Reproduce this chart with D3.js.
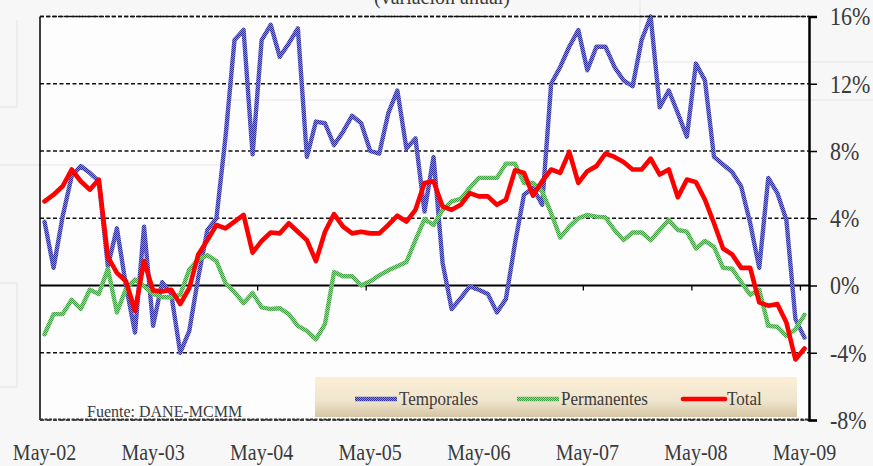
<!DOCTYPE html>
<html><head><meta charset="utf-8">
<script src="https://cdn.jsdelivr.net/npm/d3@7"></script>
<style>
body{margin:0;background:#f7f7f7;}
svg{display:block;}
text{font-family:"Liberation Serif","Times New Roman",serif;fill:#3a3a3a;}
</style>
</head><body>
<svg id="c" width="873" height="466"></svg>
<script>
// ---- data ----
const startMonth = new Date(2002, 4, 1); // May-02
const nMonths = 85;                      // May-02 .. May-09
const categories = d3.range(nMonths).map(i => d3.timeMonth.offset(startMonth, i));
const xTickLabels = ["May-02","May-03","May-04","May-05","May-06","May-07","May-08","May-09"];
const yTicks = [-8,-4,0,4,8,12,16];
const seriesNames = ["Temporales","Permanentes","Total"];
const titleText = "(variación anual)";
const sourceText = "Fuente: DANE-MCMM";

const temporales = [3.8,1.05,4.1,6.5,7.1,6.7,6.2,1.15,3.4,0.0,
  -2.8,3.5,-2.4,0.2,-0.5,-4.0,-2.7,0.5,3.3,4.0,
  8.8,14.6,15.2,7.8,14.6,15.5,13.6,14.4,15.3,7.65,
  9.75,9.65,8.35,9.15,10.1,9.65,8.0,7.85,10.25,11.6,
  8.15,8.75,4.4,7.65,1.35,-1.4,-0.75,-0.05,-0.25,-0.5,
  -1.6,-0.8,2.5,5.4,5.8,4.8,12.0,13.0,14.2,15.2,
  12.8,14.2,14.2,13.0,12.2,11.85,14.6,16.0,10.6,11.6,
  10.25,8.85,13.2,12.2,7.65,7.2,6.75,5.9,3.7,1.05,
  6.4,5.5,3.9,-2.0,-3.1];
const permanentes = [-2.9,-1.7,-1.7,-0.85,-1.4,-0.25,-0.5,1.0,-1.6,-0.2,
  0.35,-0.05,-0.5,-0.7,-0.7,-0.55,0.95,1.55,1.8,1.45,
  0.15,-0.4,-1.05,-0.45,-1.3,-1.4,-1.35,-1.7,-2.4,-2.7,
  -3.2,-2.3,0.8,0.55,0.55,0.0,0.25,0.6,0.9,1.15,
  1.4,2.7,3.95,3.6,4.5,5.0,5.15,5.8,6.4,6.4,
  6.4,7.25,7.25,6.1,6.1,5.6,4.3,2.85,3.5,4.0,
  4.2,4.1,4.05,3.3,2.7,3.15,3.15,2.7,3.3,3.9,
  3.3,3.2,2.2,2.65,2.3,1.05,1.0,0.2,-0.55,-0.25,
  -2.4,-2.45,-3.0,-2.6,-1.75];
const total = [5.0,5.4,5.9,6.9,6.2,5.7,6.3,1.7,0.75,0.25,
  -1.5,1.45,-0.3,-0.35,-0.25,-1.1,-0.15,1.85,2.7,3.6,
  3.4,3.8,4.2,1.95,2.65,3.15,3.1,3.7,3.2,2.7,
  1.45,3.2,4.25,3.5,3.1,3.2,3.1,3.1,3.6,4.15,
  3.8,4.5,6.1,6.2,4.7,4.5,4.8,5.5,5.3,5.3,
  4.8,5.1,6.85,6.7,5.35,6.2,6.9,6.7,7.95,6.1,
  6.8,7.1,7.85,7.65,7.35,6.9,6.9,7.55,6.6,6.9,
  5.25,6.3,6.15,5.1,3.7,2.2,1.85,1.05,1.05,-1.0,
  -1.2,-1.1,-2.2,-4.4,-3.75];

// ---- layout ----
const svg = d3.select("#c");
const L = 40, R = 809, T = 16.5, B = 420;

const x = d3.scaleBand().domain(d3.range(nMonths)).range([L, R]).padding(0);
const xEdge = d3.scaleLinear().domain([0, nMonths]).range([L, R]);
const y = d3.scaleLinear().domain([-8, 16]).range([B, T]);

const defs = svg.append("defs");
function checker(id, dark, light) {
  const p = defs.append("pattern").attr("id", id).attr("width", 2).attr("height", 2)
    .attr("patternUnits", "userSpaceOnUse");
  p.append("rect").attr("width", 2).attr("height", 2).attr("fill", light);
  p.append("rect").attr("width", 1).attr("height", 1).attr("fill", dark);
  p.append("rect").attr("x", 1).attr("y", 1).attr("width", 1).attr("height", 1).attr("fill", dark);
}
checker("pb", "#30309a", "#8c8cce");
checker("pg", "#3f9e3f", "#9cd69c");
const lg = defs.append("linearGradient").attr("id", "lgd").attr("x1", 0).attr("x2", 0).attr("y1", 0).attr("y2", 1);
lg.append("stop").attr("offset", "0%").attr("stop-color", "#fcefd6");
lg.append("stop").attr("offset", "60%").attr("stop-color", "#efe5cd");
lg.append("stop").attr("offset", "100%").attr("stop-color", "#d5c4a2");

// background + faint slide artefacts
svg.append("rect").attr("width", 873).attr("height", 466).attr("fill", "#f7f7f7");
svg.append("rect").attr("x", L).attr("y", T).attr("width", R - L).attr("height", B - T).attr("fill", "#fdfdfd");
const faint = [[17,20,17,107],[0,107,17,107],[0,165,229,165],[229,100,229,165],[229,100,873,100],
               [640,0,640,62],[640,62,873,62],[17,283,17,387],[0,283,17,283],[0,387,17,387]];
svg.append("g").selectAll("line").data(faint).join("line")
  .attr("x1", d => d[0]).attr("y1", d => d[1]).attr("x2", d => d[2]).attr("y2", d => d[3])
  .attr("stroke", "#e6e6e6").attr("stroke-width", 1.2);

// title (cut off at top, as in the source slide)
svg.append("text").attr("x", 442).attr("y", 4).attr("text-anchor", "middle")
  .attr("font-size", 20).text(titleText);

// gridlines
svg.append("g").selectAll("line").data(yTicks.filter(v => v !== 0)).join("line")
  .attr("x1", L).attr("x2", R).attr("y1", d => y(d)).attr("y2", d => y(d))
  .attr("stroke", "#111").attr("stroke-width", 1.3).attr("stroke-dasharray", "4,2.5");

// zero line with tick marks
svg.append("line").attr("x1", L).attr("x2", R).attr("y1", y(0)).attr("y2", y(0))
  .attr("stroke", "#000").attr("stroke-width", 2.2);
const zt = svg.append("g").attr("transform", `translate(0,${y(0)})`)
  .call(d3.axisBottom(xEdge).tickValues(d3.range(12, nMonths, 12)).tickSize(5).tickFormat(""));
zt.select(".domain").remove();
zt.selectAll("line").attr("stroke", "#000").attr("stroke-width", 1.3);

// left axis line
svg.append("line").attr("x1", L).attr("x2", L).attr("y1", T).attr("y2", B)
  .attr("stroke", "#000").attr("stroke-width", 1.5);

// x labels
const xa = svg.append("g").attr("transform", `translate(0,${B})`)
  .call(d3.axisBottom(x).tickValues(d3.range(0, nMonths, 12)).tickSize(0)
    .tickFormat((d, i) => xTickLabels[i]));
xa.select(".domain").remove();
xa.selectAll("text").attr("dy", null).attr("y", 40 / 1.14).attr("transform", "scale(1,1.14)")
  .attr("font-size", 20).attr("font-family", '"Liberation Serif",serif').attr("fill", "#3a3a3a");

// right axis
const ya = svg.append("g").attr("transform", `translate(${R},0)`)
  .call(d3.axisRight(y).tickValues(yTicks).tickSize(8).tickPadding(13).tickFormat(d => d + "%"));
ya.select(".domain").attr("stroke", "#000").attr("stroke-width", 2.5);
ya.selectAll("line").attr("stroke", "#000").attr("stroke-width", 1.5);
ya.selectAll("text").attr("dy", "0.33em").attr("transform", "scale(1,1.16)")
  .attr("font-size", 22).attr("font-family", '"Liberation Serif",serif').attr("fill", "#3a3a3a");

// series
const line = d3.line().x((d, i) => x(i) + x.bandwidth() / 2).y(d => y(d));
const series = [
  {name: seriesNames[0], values: temporales, stroke: "url(#pb)", w: 4.4},
  {name: seriesNames[1], values: permanentes, stroke: "url(#pg)", w: 4.4},
  {name: seriesNames[2], values: total, stroke: "#ff0000", w: 4.6}
];
svg.append("g").selectAll("path").data(series).join("path")
  .attr("d", d => line(d.values)).attr("fill", "none")
  .attr("stroke", d => d.stroke).attr("stroke-width", d => d.w)
  .attr("stroke-linejoin", "round").attr("stroke-linecap", "round");

// bottom border (dashed) and top border
svg.append("line").attr("x1", L).attr("x2", R).attr("y1", B - 0.5).attr("y2", B - 0.5)
  .attr("stroke", "#333").attr("stroke-width", 2).attr("stroke-dasharray", "3,1.5");
svg.append("line").attr("x1", L).attr("x2", R).attr("y1", T).attr("y2", T)
  .attr("stroke", "#111").attr("stroke-width", 1.6).attr("stroke-dasharray", "4,2");

// legend
const leg = svg.append("g");
leg.append("rect").attr("x", 315).attr("y", 377).attr("width", 482).attr("height", 40).attr("fill", "url(#lgd)");
const legX = [355, 517, 683];
series.forEach((s, i) => {
  leg.append("line").attr("x1", legX[i]).attr("x2", legX[i] + 42).attr("y1", 399).attr("y2", 399)
    .attr("stroke", s.stroke).attr("stroke-width", s.w).attr("stroke-linecap", i === 2 ? "round" : "butt");
  leg.append("text").attr("transform", `translate(${legX[i] + 44},405) scale(1,1.1)`)
    .attr("font-size", 17).text(s.name);
});

// source
svg.append("text").attr("x", 87).attr("y", 417).attr("font-size", 16).text(sourceText);
</script>
</body></html>
